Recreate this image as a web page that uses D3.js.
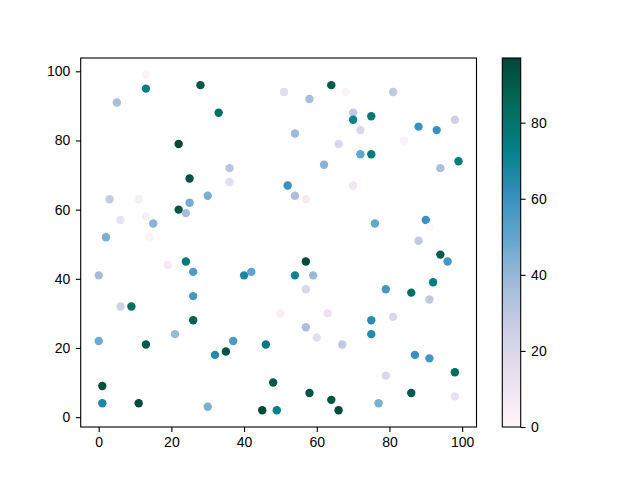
<!DOCTYPE html>
<html lang="en">
  <head>
    <meta charset="UTF-8" />
    <script src="https://d3js.org/d3.v7.min.js"></script>
    <title>Scatter</title>
    <style>
      body { margin: 0; background: #fff; }
      .tick text { font-family: "Liberation Sans", Arial, sans-serif; font-size: 14px; fill: #000; }
      .domain, .tick line { stroke: #000; stroke-width: 1.1px; }
    </style>
  </head>
  <body>
    <svg width="640" height="480"></svg>
    <script>
      // point data
      const xs = [13, 13, 5, 28, 33, 22, 36, 36, 25, 3, 11, 30, 25, 22, 24, 6, 13, 15, 2, 14,
        51, 64, 68, 58, 81, 70, 70, 75, 72, 98, 88, 93, 54, 84, 66, 72, 75, 62, 99, 94,
        52, 70, 54, 57, 76, 90, 91, 88, 19, 24, 26, 40, 42, 0, 26, 6, 9, 26, 50, 21,
        0, 13, 37, 32, 35, 46, 1, 1, 11, 30, 48, 45, 49, 94, 96, 57, 54, 59, 57, 79,
        86, 92, 91, 63, 57, 60, 67, 75, 81, 75, 87, 91, 98, 79, 58, 64, 66, 77, 86, 98];
      const ys = [99, 95, 91, 96, 88, 79, 72, 68, 69, 63, 63, 64, 62, 60, 59, 57, 58, 56, 52, 52,
        94, 96, 94, 92, 94, 88, 86, 87, 83, 86, 84, 83, 82, 80, 79, 76, 76, 73, 74, 72,
        67, 67, 64, 63, 56, 57, 55, 51, 44, 45, 42, 41, 42, 41, 35, 32, 32, 28, 30, 24,
        22, 21, 22, 18, 19, 21, 9, 4, 4, 3, 10, 2, 2, 47, 45, 45, 41, 41, 37, 37,
        36, 39, 34, 30, 26, 23, 21, 28, 29, 24, 18, 17, 13, 12, 7, 5, 2, 4, 7, 6];
      const vals = [2, 75, 36, 92, 83, 97, 31, 15, 93, 28, 5, 45, 46, 92, 36, 13, 5, 42, 45, 2,
        16, 90, 3, 36, 29, 29, 72, 78, 20, 24, 60, 60, 38, 3, 20, 50, 77, 42, 76, 35,
        60, 9, 35, 7, 50, 60, 0, 29, 7, 77, 55, 67, 51, 37, 57, 24, 83, 88, 5, 39,
        47, 90, 56, 65, 93, 76, 94, 67, 96, 45, 91, 96, 73, 90, 57, 96, 71, 39, 20, 57,
        82, 75, 29, 12, 35, 16, 29, 64, 20, 65, 60, 58, 84, 20, 93, 93, 96, 45, 91, 13];
      const cbTicks = [0, 20, 40, 60, 80];
      const xTicks = [0, 20, 40, 60, 80, 100];
      const yTicks = [0, 20, 40, 60, 80, 100];

      // matplotlib PuBuGn (ColorBrewer 9 class, linear)
      const pubugn = ["#fff7fb", "#ece2f0", "#d0d1e6", "#a6bddb", "#67a9cf",
        "#3690c0", "#02818a", "#016c59", "#014636"];

      const points = xs.map((x, i) => ({ x: x, y: ys[i], v: vals[i] }));

      const plotL = 80.7, plotR = 476.5, plotT = 58, plotB = 427;
      const cbLeft = 502.3, cbWidth = 18.4;

      function padded(ext) {
        const m = (ext[1] - ext[0]) * 0.05;
        return [ext[0] - m, ext[1] + m];
      }

      const x = d3.scaleLinear().domain(padded(d3.extent(xs))).range([plotL, plotR]);
      const y = d3.scaleLinear().domain(padded(d3.extent(ys))).range([plotB, plotT]);

      const vExt = d3.extent(vals);
      const color = d3.scaleLinear()
        .domain(pubugn.map((c, i) => vExt[0] + (vExt[1] - vExt[0]) * i / (pubugn.length - 1)))
        .range(pubugn);

      const svg = d3.select("svg");

      svg.append("g")
        .selectAll("circle")
        .data(points)
        .join("circle")
        .attr("cx", d => x(d.x))
        .attr("cy", d => y(d.y))
        .attr("r", 4.2)
        .attr("fill", d => color(d.v));

      // frame
      svg.append("rect")
        .attr("x", plotL).attr("y", plotT)
        .attr("width", plotR - plotL).attr("height", plotB - plotT)
        .attr("fill", "none").attr("stroke", "#000").attr("stroke-width", 1.1);

      svg.append("g")
        .attr("transform", `translate(0,${plotB})`)
        .call(d3.axisBottom(x).tickValues(xTicks).tickSizeOuter(0).tickSize(4.9).tickPadding(5))
        .call(g => g.select(".domain").remove());

      svg.append("g")
        .attr("transform", `translate(${plotL},0)`)
        .call(d3.axisLeft(y).tickValues(yTicks).tickSizeOuter(0).tickSize(4.9).tickPadding(5.5))
        .call(g => g.select(".domain").remove());

      // colorbar
      const cb = d3.scaleLinear().domain(vExt).range([plotB, plotT]);
      const grad = svg.append("defs").append("linearGradient")
        .attr("id", "cbgrad").attr("x1", 0).attr("y1", 1).attr("x2", 0).attr("y2", 0);
      grad.selectAll("stop")
        .data(pubugn)
        .join("stop")
        .attr("offset", (d, i) => i / (pubugn.length - 1))
        .attr("stop-color", d => d);

      svg.append("rect")
        .attr("x", cbLeft).attr("y", plotT)
        .attr("width", cbWidth).attr("height", plotB - plotT)
        .attr("fill", "url(#cbgrad)")
        .attr("stroke", "#000").attr("stroke-width", 1.1);

      svg.append("g")
        .attr("transform", `translate(${cbLeft + cbWidth},0)`)
        .call(d3.axisRight(cb).tickValues(cbTicks).tickSizeOuter(0).tickSize(4.9).tickPadding(5.5))
        .call(g => g.select(".domain").remove());
    </script>
  </body>
</html>
